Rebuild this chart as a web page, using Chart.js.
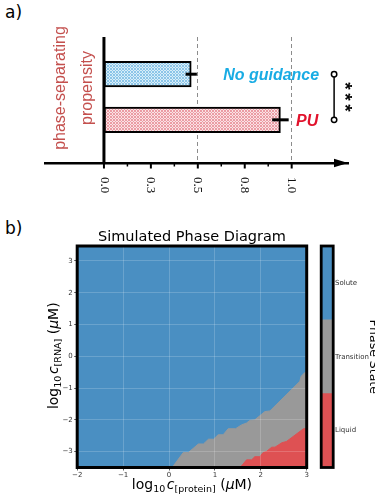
<!DOCTYPE html>
<html>
<head>
<meta charset="utf-8">
<script src="https://cdn.jsdelivr.net/npm/chart.js@4.4.3/dist/chart.umd.min.js"></script>
<style>
  html, body { margin: 0; padding: 0; background: #fff; }
  body { position: relative; width: 375px; height: 495px; overflow: hidden; }
  canvas, .panel { position: absolute; }
  .panel { font-family: 'DejaVu Sans', sans-serif; font-size: 17px; color: #000; line-height: 20px; }
</style>
</head>
<body>
<div class="panel" style="left:5px;top:2px">a)</div>
<div class="panel" style="left:5px;top:218px">b)</div>
<canvas id="bars" width="375" height="200" style="left:0;top:0"></canvas>
<canvas id="phase" width="316" height="295" style="left:0;top:200px"></canvas>
<canvas id="cbar" width="80" height="295" style="left:316px;top:200px"></canvas>
<script>
// panel a: propensity bars
const categories = ['No guidance', 'PU'];
const propensity = [0.465, 0.94];
const propensityErr = [0.03, 0.044];
const xTickValues = [0, 0.25, 0.5, 0.75, 1.0];
const xTickLabels = ['0.0', '0.3', '0.5', '0.8', '1.0'];
const xMinorTicks = [0.125, 0.375, 0.625, 0.875];
const refLines = [0.5, 1.0];

// panel b: phase diagram, boundaries (log10 units)
const stateLabels = ['Liquid', 'Transition', 'Solute'];
const proteinTicks = [-2, -1, 0, 1, 2, 3];
const rnaTicks = [-3, -2, -1, 0, 1, 2, 3];
const soluteX = [-2, 3];
const soluteY = [3.47, 3.47];
const transitionX = [0.07, 0.31, 0.42, 0.64, 0.75, 0.86, 0.97, 1.07, 1.18, 1.29, 1.45, 1.58, 1.69, 1.76, 1.87, 2.09, 2.2, 2.85, 2.88, 2.96, 3.0];
const transitionY = [-3.5, -3.03, -3.03, -2.76, -2.76, -2.61, -2.61, -2.47, -2.47, -2.28, -2.28, -2.16, -2.1, -2.02, -2.0, -1.74, -1.72, -0.79, -0.63, -0.51, -0.51];
const liquidX = [1.55, 1.69, 1.8, 1.87, 1.98, 2.05, 2.12, 2.24, 2.31, 2.46, 2.56, 2.93, 3.0];
const liquidY = [-3.5, -3.26, -3.26, -3.16, -3.16, -3.03, -3.0, -2.86, -2.86, -2.72, -2.68, -2.28, -2.28];

const stateColors = ['#de5153', '#999999', '#4a8fc2'];
const labelColors = ['#19ace4', '#e1122c'];

function hatch(light, dark) {
  const c = document.createElement('canvas');
  c.width = 3; c.height = 3;
  const g = c.getContext('2d');
  g.fillStyle = light;
  g.fillRect(0, 0, 3, 3);
  g.fillStyle = dark;
  g.fillRect(0, 0, 1, 1);
  g.fillRect(2, 0, 1, 1);
  g.fillRect(1, 1, 1, 1);
  g.fillRect(0, 2, 1, 1);
  g.fillRect(2, 2, 1, 1);
  return g.createPattern(c, 'repeat');
}

function line(ctx, x1, y1, x2, y2) {
  ctx.beginPath();
  ctx.moveTo(x1, y1);
  ctx.lineTo(x2, y2);
  ctx.stroke();
}

const panelA = {
  id: 'panelA',
  afterDraw(chart) {
    const { ctx, chartArea: a, scales: { x, y } } = chart;
    const px = (v) => x.getPixelForValue(v);
    ctx.save();
    ctx.strokeStyle = '#000';
    ctx.fillStyle = '#000';

    // y axis at zero
    ctx.lineWidth = 3;
    line(ctx, px(0), a.top, px(0), a.bottom + 1);

    // arrow head
    ctx.beginPath();
    ctx.moveTo(a.right, a.bottom);
    ctx.lineTo(a.right - 14, a.bottom - 4.3);
    ctx.lineTo(a.right - 14, a.bottom + 4.3);
    ctx.closePath();
    ctx.fill();

    // tick marks
    ctx.lineWidth = 2;
    xTickValues.forEach((v) => line(ctx, px(v), a.bottom, px(v), a.bottom + 5.5));
    ctx.lineWidth = 1.5;
    xMinorTicks.forEach((v) => line(ctx, px(v), a.bottom, px(v), a.bottom + 3.5));

    // rotated tick labels
    ctx.font = '13px "Liberation Serif"';
    ctx.fillStyle = '#111';
    ctx.textAlign = 'left';
    ctx.textBaseline = 'middle';
    xTickValues.forEach((v, i) => {
      ctx.save();
      ctx.translate(px(v), a.bottom + 14);
      ctx.rotate(Math.PI / 2);
      ctx.fillText(xTickLabels[i], 0, 0);
      ctx.restore();
    });

    // error bars
    ctx.lineWidth = 3;
    propensity.forEach((v, i) => {
      const py = y.getPixelForValue(i);
      line(ctx, px(v - propensityErr[i]), py, px(v + propensityErr[i]), py);
    });

    // category names next to bars
    const labelAt = [0.635, 1.023];
    ctx.font = 'italic bold 16px "Liberation Sans"';
    ctx.textBaseline = 'alphabetic';
    categories.forEach((c, i) => {
      ctx.fillStyle = labelColors[i];
      ctx.fillText(c, px(labelAt[i]), y.getPixelForValue(i) + 6);
    });

    // significance bracket
    const bx = px(1.226);
    const y1 = y.getPixelForValue(0);
    const y2 = y.getPixelForValue(1);
    ctx.lineWidth = 1.5;
    ctx.strokeStyle = '#000';
    line(ctx, bx, y1, bx, y2);
    [y1, y2].forEach((cy) => {
      ctx.beginPath();
      ctx.arc(bx, cy, 2.7, 0, Math.PI * 2);
      ctx.fillStyle = '#fff';
      ctx.fill();
      ctx.stroke();
    });
    ctx.fillStyle = '#000';
    ctx.font = 'bold 19px "Liberation Sans"';
    ctx.textAlign = 'center';
    ctx.textBaseline = 'middle';
    const midY = (y1 + y2) / 2;
    [-11, 0, 11].forEach((d) => {
      ctx.save();
      ctx.translate(bx + 10, midY + d);
      ctx.rotate(Math.PI / 2);
      ctx.fillText('*', 0, 0);
      ctx.restore();
    });

    // axis label, two lines, rotated
    ctx.fillStyle = '#c4504e';
    ctx.font = '16px "Liberation Sans"';
    ctx.textBaseline = 'alphabetic';
    [['phase-separating', 64.5], ['propensity', 91.5]].forEach(([t, bxl]) => {
      ctx.save();
      ctx.translate(bxl, 88);
      ctx.rotate(-Math.PI / 2);
      ctx.fillText(t, 0, 0);
      ctx.restore();
    });
    ctx.restore();
  }
};

new Chart(document.getElementById('bars'), {
  type: 'bar',
  data: {
    datasets: [{
      label: 'phase-separating propensity',
      data: propensity.map((v, i) => ({ x: v, y: i })),
      backgroundColor: [hatch('#d8eef9', '#8cc5e8'), hatch('#fae2e5', '#eb9ca4')],
      borderColor: '#000',
      borderWidth: 2,
      borderSkipped: false,
      barThickness: 25.5
    }]
  },
  options: {
    indexAxis: 'y',
    responsive: false,
    animation: false,
    layout: { padding: { left: 45, right: 27, top: 37, bottom: 37 } },
    plugins: { legend: { display: false }, tooltip: { enabled: false } },
    scales: {
      x: {
        type: 'linear', min: -0.314, max: 1.3,
        afterBuildTicks: (s) => { s.ticks = refLines.map((v) => ({ value: v })); },
        grid: { color: '#8c8c8c', lineWidth: 1, drawTicks: false },
        border: { display: true, color: '#000', width: 2.5, dash: [4, 3] },
        ticks: { display: false }
      },
      y: { type: 'linear', reverse: true, offset: false, min: -0.815, max: 1.946, display: false }
    }
  },
  plugins: [panelA]
});

const frame = {
  id: 'frame',
  afterDraw(chart, args, opts) {
    const { ctx, chartArea: a } = chart;
    ctx.save();
    ctx.strokeStyle = '#000';
    ctx.lineWidth = opts.width || 3;
    ctx.strokeRect(a.left, a.top, a.right - a.left, a.bottom - a.top);
    ctx.restore();
  }
};

function richText(ctx, parts, cx, baseY, angle) {
  const fontOf = (p) => `${p[3] ? 'italic ' : ''}${p[1]}px "DejaVu Sans"`;
  ctx.save();
  ctx.translate(cx, baseY);
  ctx.rotate(angle);
  let w = 0;
  parts.forEach((p) => { ctx.font = fontOf(p); w += ctx.measureText(p[0]).width; });
  let x = -w / 2;
  ctx.textAlign = 'left';
  ctx.textBaseline = 'alphabetic';
  ctx.fillStyle = '#000';
  parts.forEach((p) => {
    ctx.font = fontOf(p);
    ctx.fillText(p[0], x, p[2]);
    x += ctx.measureText(p[0]).width;
  });
  ctx.restore();
}

const phaseText = {
  id: 'phaseText',
  afterDraw(chart) {
    const { ctx, chartArea: a } = chart;
    ctx.save();
    ctx.font = '14.5px "DejaVu Sans"';
    ctx.fillStyle = '#000';
    ctx.textAlign = 'center';
    ctx.textBaseline = 'alphabetic';
    ctx.fillText('Simulated Phase Diagram', (a.left + a.right) / 2, 40.5);
    ctx.restore();
    richText(ctx, [['log', 14, 0], ['10', 9.5, 3], [' ', 5, 0], ['c', 14, 0, true], ['[protein]', 9.5, 3],
      [' (', 14, 0], ['μ', 14, 0, true], ['M)', 14, 0]], (a.left + a.right) / 2, 289, 0);
    richText(ctx, [['log', 14, 0], ['10', 9.5, 3], [' ', 5, 0], ['c', 14, 0, true], ['[RNA]', 9.5, 3],
      [' (', 14, 0], ['μ', 14, 0, true], ['M)', 14, 0]], 58, (a.top + a.bottom) / 2 - 1, -Math.PI / 2);
  }
};

function region(label, xs, ys, color) {
  return {
    label,
    data: xs.map((x, i) => ({ x, y: ys[i] })),
    fill: 'start',
    backgroundColor: color,
    borderColor: color,
    borderWidth: 1,
    pointRadius: 0,
    tension: 0
  };
}

const minusFmt = (v) => (v < 0 ? '\u2212' + Math.abs(v) : String(v));
const smallTicks = { color: '#333', font: { size: 7, family: 'DejaVu Sans' } };

new Chart(document.getElementById('phase'), {
  type: 'line',
  data: {
    datasets: [
      region('Liquid', liquidX, liquidY, stateColors[0]),
      region('Transition', transitionX, transitionY, stateColors[1]),
      region('Solute', soluteX, soluteY, stateColors[2])
    ]
  },
  options: {
    responsive: false,
    animation: false,
    layout: { padding: { left: 0, right: 9.3, top: 46, bottom: 0 } },
    plugins: { legend: { display: false }, tooltip: { enabled: false } },
    scales: {
      x: {
        type: 'linear', min: -2, max: 3,
        afterBuildTicks: (s) => { s.ticks = proteinTicks.map((v) => ({ value: v })); },
        afterFit: (s) => { s.height = 27.5; },
        grid: { color: 'rgba(255,255,255,0.18)', lineWidth: 1, z: 1, tickLength: 3, tickColor: '#333', tickWidth: 0.8 },
        border: { display: false },
        ticks: { ...smallTicks, padding: 0, maxRotation: 0, callback: minusFmt }
      },
      y: {
        type: 'linear', min: -3.5, max: 3.47,
        afterBuildTicks: (s) => { s.ticks = rnaTicks.map((v) => ({ value: v })); },
        afterFit: (s) => { s.width = 77.2; },
        grid: { color: 'rgba(255,255,255,0.18)', lineWidth: 1, z: 1, tickLength: 3, tickColor: '#333', tickWidth: 0.8 },
        border: { display: false },
        ticks: { ...smallTicks, padding: 1.5, callback: minusFmt }
      }
    }
  },
  plugins: [frame, phaseText]
});

new Chart(document.getElementById('cbar'), {
  type: 'bar',
  data: {
    labels: [''],
    datasets: stateLabels.map((s, i) => ({
      label: s,
      data: [1],
      backgroundColor: stateColors[i],
      borderWidth: 0,
      barPercentage: 1,
      categoryPercentage: 1
    }))
  },
  options: {
    responsive: false,
    animation: false,
    layout: { padding: { left: 5.2, right: 0, top: 46, bottom: 27.5 } },
    plugins: { legend: { display: false }, tooltip: { enabled: false }, frame: { width: 2.8 } },
    scales: {
      x: { stacked: true, display: false },
      y: {
        stacked: true, position: 'right', min: 0, max: 3,
        afterBuildTicks: (s) => { s.ticks = stateLabels.map((_, i) => ({ value: i + 0.5 })); },
        afterFit: (s) => { s.width = 62.8; },
        grid: { display: false, drawTicks: false },
        border: { display: false },
        ticks: { ...smallTicks, padding: 1.8, callback: (v, i) => stateLabels[i] },
        title: {
          display: true, text: 'Phase State', color: '#000',
          font: { size: 12.5, family: 'DejaVu Sans' }, padding: { top: 15, bottom: 0 }
        }
      }
    }
  },
  plugins: [frame]
});
</script>
</body>
</html>
